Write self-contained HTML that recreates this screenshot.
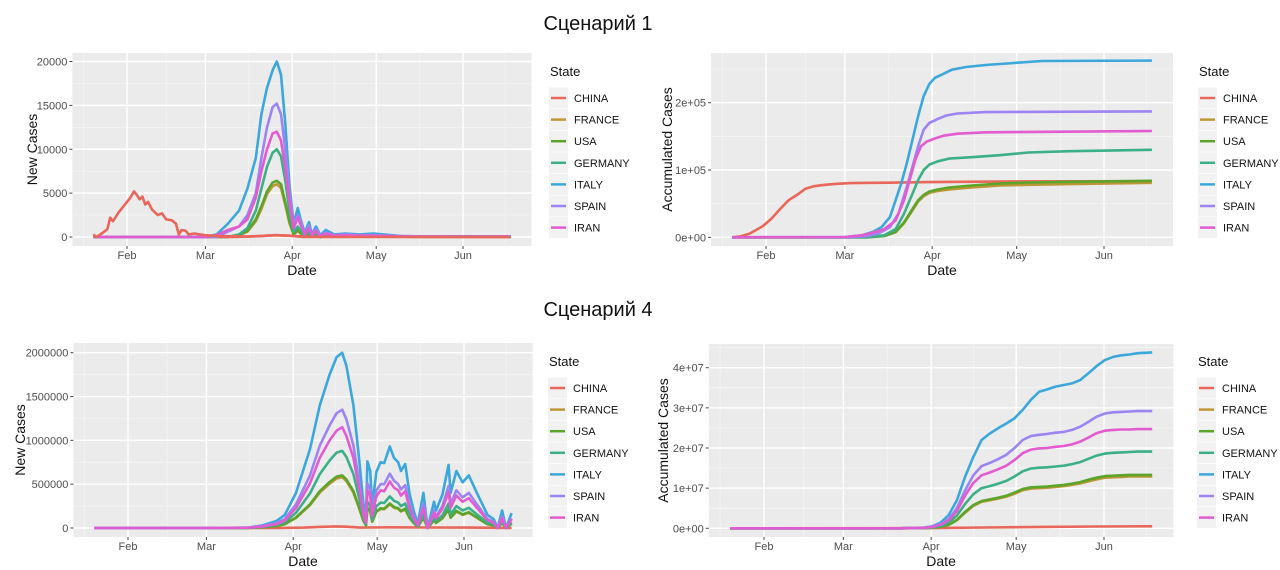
<!DOCTYPE html>
<html><head><meta charset="utf-8">
<style>
html,body{margin:0;padding:0;background:#fff;}
svg{display:block;font-family:"Liberation Sans",sans-serif;}
.title{font-family:"Liberation Sans","Noto Sans CJK SC",sans-serif;font-size:20px;fill:#111;}
</style></head>
<body>
<svg id="chart" width="1280" height="570" viewBox="0 0 1280 570" xmlns="http://www.w3.org/2000/svg">
<rect width="1280" height="570" fill="#fff"/>
<text class="title" x="598" y="30" text-anchor="middle">Сценарий 1</text>
<text class="title" x="598" y="316" text-anchor="middle">Сценарий 4</text>
</svg>
<script>
const states = ["CHINA","FRANCE","USA","GERMANY","ITALY","SPAIN","IRAN"];
const colors = ["#e8675a","#bf9636","#5aa52a","#3bb088","#3ba7db","#9c84f2","#e35bd0"];
const monthLabels = ["Feb","Mar","Apr","May","Jun"];
const monthDays = [32,60,91,121,152];

// Panel 1: new cases, scenario 1
const p1ChinaDays = [20,21,23,25,26,27,29,31,33,34.5,35.5,36.5,37.5,38.5,39.5,41,43,44.5,46,48,49.5,50.5,51.5,53,54,56,58,60,65,75,85,90,95,169];
const p1ChinaVals = [300,0,400,900,2200,1800,2800,3600,4400,5200,4800,4300,4600,3700,4000,3100,2500,2700,2000,1900,1500,300,800,700,300,400,300,200,100,50,200,150,0,0];
const p1Days = [20,60,64,68,72,75,78,80,82,84,85.5,87,88.5,90,91.5,93,94,95.5,97,98,99.5,101,103,106,110,115,120,130,140,150,169];
const p1Italy = [0,0,300,1500,3000,5500,9000,14000,17000,19000,20000,18500,13000,6000,1500,3300,2000,500,1700,300,1200,200,800,300,400,300,400,100,50,80,50];
const p1Spain = [0,0,0,600,1200,2500,5000,9000,12500,14800,15200,14000,10000,5000,1500,2500,1800,300,1300,200,900,100,500,200,300,200,200,100,50,50,50];
const p1Iran = [0,0,200,800,1200,2000,4500,7500,10000,11800,12000,11000,8000,4000,1000,2200,1400,300,1000,200,700,100,400,150,200,150,150,50,50,50,50];
const p1Germany = [0,0,0,0,300,1000,3000,5500,8000,9600,10000,9200,6500,3000,600,1200,800,100,600,100,400,50,300,100,100,100,100,50,30,30,30];
const p1Usa = [0,0,0,0,200,700,2000,3500,5200,6200,6400,6000,4000,1800,300,800,500,50,300,50,200,0,100,50,50,50,50,30,20,20,20];
const p1France = [0,0,0,0,200,600,1800,3200,4900,5800,6000,5600,3700,1600,300,700,400,50,250,50,150,0,100,50,50,50,50,30,20,20,20];
const p1ChinaBumpDays = [20,70,80,85,90,95,169];
const p1ChinaBumpVals = [0,0,100,200,150,50,0];
const p1YTicks = [0,5000,10000,15000,20000];
const p1YLabels = ["0","5000","10000","15000","20000"];

// Panel 2: accumulated, scenario 1
const p2ChinaDays = [20,23,26,29,31,34,37,40,43,46,49,53,57,62,75,90,120,169];
const p2ChinaVals = [0,1500,5000,12000,17000,28000,42000,55000,63000,72000,76000,78000,79500,80500,81200,82000,83000,83500];
const p2ItalyDays = [20,60,66,70,73,76,78,80,82,84,86,88,90,92,95,98,103,110,120,130,169];
const p2ItalyVals = [0,500,3000,8000,15000,30000,55000,80000,110000,145000,180000,210000,228000,237000,243000,249000,253000,256000,259000,262000,262500];
const p2SpainDays = [20,62,68,72,76,79,82,84,86,88,90,93,96,100,110,169];
const p2SpainVals = [0,0,2000,6000,15000,35000,75000,105000,135000,160000,170000,176000,181000,184000,186000,187000];
const p2IranDays = [20,60,66,70,74,78,81,83,85,87,89,92,95,100,110,169];
const p2IranVals = [0,500,3000,7000,12000,25000,55000,85000,115000,135000,142000,147000,151000,154000,156000,158000];
const p2Days = [20,68,74,78,81,84,86,88,90,93,97,105,115,125,140,169];
const p2Germany = [0,0,3000,12000,35000,65000,85000,100000,108000,113000,117000,119000,122000,126000,128000,130000];
const p2Usa = [0,0,2000,8000,22000,42000,55000,63000,68000,71000,74000,77000,80000,81500,82500,84000];
const p2France = [0,0,2000,7500,21000,40000,53000,61000,66000,69000,71000,74000,77000,78000,79000,81000];
const p2YTicks = [0,100000,200000];
const p2YLabels = ["0e+00","1e+05","2e+05"];

// Panel 3: new cases, scenario 4
const p3Days = [20,60,75,80,85,88,92,97,100.5,104,106.5,108.5,110,112.5,114.5,116,117,117.5,118.5,119.2,120.7,122.2,123.5,125.5,127,128.5,129.5,131,132.5,134,135.5,137.5,139,141.3,142,144.3,146.5,147.2,149.3,151.5,153.7,156.6,160.4,162.6,164,165.6,167,169];
const p3Italy = [0,0,5000,30000,80000,150000,400000,900000,1400000,1750000,1950000,2000000,1850000,1400000,800000,300000,100000,760000,650000,250000,640000,750000,740000,930000,800000,750000,650000,730000,400000,200000,50000,400000,0,300000,200000,380000,720000,400000,650000,520000,600000,400000,150000,100000,0,200000,0,170000];
const p3Spain = [0,0,3000,20000,55000,100000,270000,600000,940000,1170000,1310000,1350000,1240000,940000,540000,200000,70000,510000,440000,170000,430000,500000,500000,620000,540000,500000,440000,490000,270000,130000,30000,270000,0,200000,130000,250000,480000,270000,430000,350000,400000,270000,100000,70000,0,130000,0,110000];
const p3Iran = [0,0,3000,17000,45000,85000,230000,510000,800000,1000000,1110000,1150000,1050000,800000,460000,170000,60000,430000,370000,140000,360000,430000,420000,530000,460000,430000,370000,420000,230000,110000,30000,230000,0,170000,110000,220000,410000,230000,370000,300000,340000,230000,90000,60000,0,110000,0,100000];
const p3Germany = [0,0,2000,13000,35000,65000,175000,395000,615000,770000,860000,880000,810000,615000,350000,130000,45000,300000,250000,95000,250000,290000,285000,360000,310000,290000,250000,280000,155000,80000,20000,155000,0,115000,80000,145000,280000,155000,250000,200000,230000,155000,60000,40000,0,80000,0,65000];
const p3Usa = [0,0,1500,9000,24000,45000,120000,270000,420000,525000,585000,600000,555000,420000,240000,90000,30000,230000,195000,75000,190000,225000,220000,280000,240000,225000,195000,220000,120000,60000,15000,120000,0,90000,60000,115000,215000,120000,195000,155000,180000,120000,45000,30000,0,60000,0,50000];
const p3France = [0,0,1400,8500,23000,43000,115000,260000,405000,505000,565000,580000,535000,405000,230000,87000,29000,220000,190000,72000,185000,218000,215000,270000,232000,218000,188000,212000,116000,58000,14000,116000,0,87000,58000,110000,210000,116000,188000,150000,174000,116000,43000,29000,0,58000,0,49000];
const p3ChinaDays = [20,85,95,100,106,110,115,125,140,155,169];
const p3ChinaVals = [0,0,5000,12000,18000,15000,5000,8000,6000,4000,0];
const p3YTicks = [0,500000,1000000,1500000,2000000];
const p3YLabels = ["0","500000","1000000","1500000","2000000"];

// Panel 4: accumulated, scenario 4 (millions)
const p4Days = [20,80,88.5,91.4,94.3,97.2,100.1,103,105.9,108.8,111.7,114.6,117.5,120.4,123.3,126.2,129.1,132,134.9,137.8,140.7,143.6,146.5,149.4,152.3,155.2,158.1,161,163.9,169];
const p4Italy = [0,0,0.2,0.5,1.4,3.3,7,12.9,17.8,22,23.6,24.9,26.1,27.4,29.5,32,34,34.6,35.3,35.7,36.1,36.9,38.6,40.4,41.9,42.7,43.1,43.3,43.6,43.8];
const p4Spain = [0,0,0.15,0.4,1.0,2.3,5,9.5,13.2,15.5,16.3,17.2,18.3,20,22,23,23.3,23.5,23.8,24,24.5,25.3,26.5,27.8,28.6,28.9,29,29.1,29.2,29.2];
const p4Iran = [0,0,0.12,0.35,0.85,2,4.3,8.2,11.3,13.2,13.9,14.7,15.6,17,18.7,19.6,19.9,20,20.3,20.5,20.9,21.6,22.6,23.7,24.3,24.5,24.6,24.6,24.7,24.7];
const p4Germany = [0,0,0.08,0.25,0.6,1.4,3.2,6.1,8.5,10,10.5,11.1,11.8,12.9,14.2,14.9,15.1,15.2,15.4,15.6,16,16.5,17.3,18.1,18.6,18.8,18.9,19,19.1,19.1];
const p4Usa = [0,0,0.05,0.15,0.4,0.9,2.1,4.1,5.8,6.8,7.2,7.6,8.1,8.9,9.8,10.2,10.3,10.4,10.6,10.8,11.1,11.5,12.1,12.6,13,13.1,13.2,13.3,13.3,13.3];
const p4France = [0,0,0.05,0.14,0.38,0.85,2,3.9,5.6,6.6,7,7.4,7.9,8.6,9.5,9.9,10,10.1,10.3,10.5,10.8,11.2,11.7,12.2,12.6,12.7,12.8,12.9,12.9,12.9];
const p4ChinaDays = [20,90,110,130,150,169];
const p4ChinaVals = [0,0.05,0.2,0.35,0.45,0.5];
const p4YTicks = [0,10,20,30,40];
const p4YLabels = ["0e+00","1e+07","2e+07","3e+07","4e+07"];

const NS = "http://www.w3.org/2000/svg";
const svg = document.getElementById("chart");
function mk(tag, attrs, parent){
  const e = document.createElementNS(NS, tag);
  for (const k in attrs) e.setAttribute(k, attrs[k]);
  (parent||svg).appendChild(e);
  return e;
}

function drawPanel(cfg){
  const g = mk("g", {});
  
  
  const xDom = [12.5, 176.5];
  const xs = d => cfg.feb + (d - monthDays[0]) * (cfg.jun - cfg.feb) / (monthDays[4] - monthDays[0]);
  const ys = v => cfg.y0 + (v - cfg.yTicks[0]) * (cfg.yTop - cfg.y0) / (cfg.yTicks[cfg.yTicks.length-1] - cfg.yTicks[0]);
  const L = xs(xDom[0]), R = xs(xDom[1]);
  const bg = mk("rect", {x:L, y:cfg.top, width:R-L, height:cfg.bottom-cfg.top, fill:"#ebebeb"}, g);
  
  
  const step = cfg.yTicks[1]-cfg.yTicks[0];
  for (let v = cfg.yTicks[0]-step/2; v <= cfg.yTicks[cfg.yTicks.length-1]+step/2; v += step){
    const y = ys(v);
    if (y > cfg.top && y < cfg.bottom) mk("line",{x1:L,x2:R,y1:y,y2:y,stroke:"#f5f5f5","stroke-width":0.7},g);
  }
  const minorX = [16.5,46,75.5,106,136.5,167];
  minorX.forEach(d => { const x = xs(d); mk("line",{x1:x,x2:x,y1:cfg.top,y2:cfg.bottom,stroke:"#f5f5f5","stroke-width":0.7},g); });
  cfg.yTicks.forEach((v,i) => {
    const y = ys(v);
    mk("line",{x1:L,x2:R,y1:y,y2:y,stroke:"#fff","stroke-width":1.4},g);
    mk("line",{x1:L-3,x2:L,y1:y,y2:y,stroke:"#444","stroke-width":1},g);
    const t = mk("text",{x:L-5,y:y+4,"text-anchor":"end","font-size":11,fill:"#4d4d4d"},g);
    t.textContent = cfg.yLabels[i];
    
    
  });
  monthDays.forEach((d,i) => {
    const x = xs(d);
    mk("line",{x1:x,x2:x,y1:cfg.top,y2:cfg.bottom,stroke:"#fff","stroke-width":1.4},g);
    mk("line",{x1:x,x2:x,y1:cfg.bottom,y2:cfg.bottom+3,stroke:"#444","stroke-width":1},g);
    const t = mk("text",{x:x,y:cfg.bottom+13,"text-anchor":"middle","font-size":11,fill:"#4d4d4d"},g);
    t.textContent = monthLabels[i];
    
    
  });
  const xt = mk("text",{x:(L+R)/2,y:cfg.bottom+29,"text-anchor":"middle","font-size":14,fill:"#111"},g);
  xt.textContent = "Date";
  
  
  const cy = (cfg.top+cfg.bottom)/2;
  const yt = mk("text",{x:cfg.yTitleX,y:cy,"text-anchor":"middle","font-size":14,fill:"#111",transform:`rotate(-90 ${cfg.yTitleX} ${cy})`},g);
  yt.textContent = cfg.yTitle;
  
  
  cfg.series.forEach(s => {
    const pts = s.days.map((d,i) => xs(d).toFixed(1)+","+ys(s.vals[i]).toFixed(1)).join(" ");
    const p = mk("polyline",{points:pts,fill:"none",stroke:colors[s.idx],"stroke-width":2.6,"stroke-linejoin":"round"},g);
    
    
  });
  const lg = mk("g",{},g);
  
  
  const lt = mk("text",{x:cfg.legX-2,y:cfg.legTop,"font-size":13,fill:"#111"},lg);
  lt.textContent = "State";
  
  
  states.forEach((s,i) => {
    const cyy = cfg.legTop + 22 + i*21.6;
    const e = mk("g",{},lg);
    
    
    mk("rect",{x:cfg.legX-3,y:cyy-10.5,width:19,height:21,fill:"#f2f2f2"},e);
    mk("line",{x1:cfg.legX-1,x2:cfg.legX+14,y1:cyy,y2:cyy,stroke:colors[i],"stroke-width":2.5},e);
    const t = mk("text",{x:cfg.legX+22,y:cyy+4,"font-size":11,fill:"#111"},e);
    t.textContent = s;
  });
}

drawPanel({name:"panel-new-cases-scenario-1", feb:127, jun:463, top:53, bottom:246, y0:237, yTop:61.5,
  yTicks:p1YTicks, yLabels:p1YLabels, yTitle:"New Cases", yTitleX:37, legX:552, legTop:76,
  series:[
    {idx:1,days:p1Days,vals:p1France},{idx:2,days:p1Days,vals:p1Usa},{idx:3,days:p1Days,vals:p1Germany},
    {idx:0,days:p1ChinaBumpDays,vals:p1ChinaBumpVals},
    {idx:4,days:p1Days,vals:p1Italy},{idx:5,days:p1Days,vals:p1Spain},{idx:6,days:p1Days,vals:p1Iran},
    {idx:0,days:p1ChinaDays,vals:p1ChinaVals}]});
drawPanel({name:"panel-accumulated-scenario-1", feb:766, jun:1104, top:53, bottom:246, y0:237.3, yTop:102.7,
  yTicks:p2YTicks, yLabels:p2YLabels, yTitle:"Accumulated Cases", yTitleX:672, legX:1201, legTop:76,
  series:[
    {idx:0,days:p2ChinaDays,vals:p2ChinaVals},
    {idx:1,days:p2Days,vals:p2France},{idx:2,days:p2Days,vals:p2Usa},{idx:3,days:p2Days,vals:p2Germany},
    {idx:4,days:p2ItalyDays,vals:p2ItalyVals},{idx:5,days:p2SpainDays,vals:p2SpainVals},{idx:6,days:p2IranDays,vals:p2IranVals}]});
drawPanel({name:"panel-new-cases-scenario-4", feb:128, jun:464, top:343, bottom:537, y0:528, yTop:352.7,
  yTicks:p3YTicks, yLabels:p3YLabels, yTitle:"New Cases", yTitleX:25, legX:551, legTop:366,
  series:[
    {idx:0,days:p3ChinaDays,vals:p3ChinaVals},
    {idx:1,days:p3Days,vals:p3France},{idx:2,days:p3Days,vals:p3Usa},{idx:3,days:p3Days,vals:p3Germany},
    {idx:4,days:p3Days,vals:p3Italy},{idx:5,days:p3Days,vals:p3Spain},{idx:6,days:p3Days,vals:p3Iran}]});
drawPanel({name:"panel-accumulated-scenario-4", feb:764, jun:1104, top:344, bottom:537, y0:528.3, yTop:367.7,
  yTicks:p4YTicks, yLabels:p4YLabels, yTitle:"Accumulated Cases", yTitleX:668, legX:1200, legTop:366,
  series:[
    {idx:0,days:p4ChinaDays,vals:p4ChinaVals},
    {idx:1,days:p4Days,vals:p4France},{idx:2,days:p4Days,vals:p4Usa},{idx:3,days:p4Days,vals:p4Germany},
    {idx:4,days:p4Days,vals:p4Italy},{idx:5,days:p4Days,vals:p4Spain},{idx:6,days:p4Days,vals:p4Iran}]});
</script>
</body></html>
